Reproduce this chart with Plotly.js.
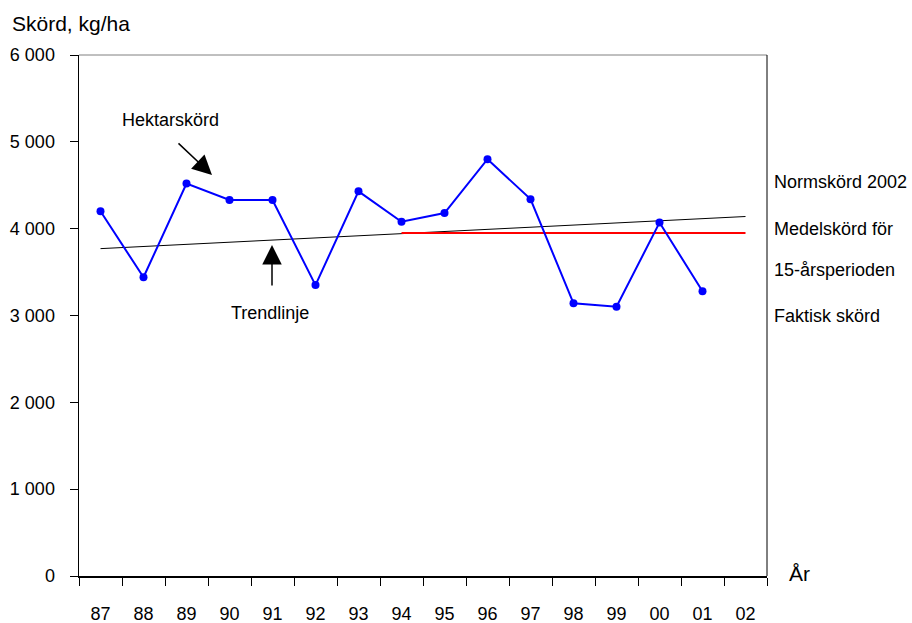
<!DOCTYPE html>
<html><head><meta charset="utf-8">
<script src="https://cdn.plot.ly/plotly-3.0.1.min.js"></script>
<style>html,body{margin:0;padding:0;background:#fff}#chart{width:912px;height:623px}</style>
</head><body><div id="chart"></div>
<script>
const years = ["87","88","89","90","91","92","93","94","95","96","97","98","99","00","01","02"];
const harvestYears = ["87","88","89","90","91","92","93","94","95","96","97","98","99","00","01"];
const harvest = [4200,3440,4520,4330,4330,3350,4430,4080,4180,4800,4340,3140,3100,4070,3280];
const trendYears = ["87","02"];
const trendValues = [3770,4140];
const meanYears = ["94","02"];
const meanValues = [3950,3950];
const yTickVals = [0,1000,2000,3000,4000,5000,6000];
const yTickText = ["0","1 000","2 000","3 000","4 000","5 000","6 000"];

const L=79, R=767, T=55, B=576, W=R-L, H=B-T;
const px=(x)=>(x-L)/W, py=(y)=>(B-y)/H;
const font={family:"Liberation Sans, Arial, sans-serif",size:18,color:"#000"};

const traces=[
 {x:trendYears,y:trendValues,type:"scatter",mode:"lines",line:{color:"#000",width:1},hoverinfo:"skip"},
 {x:meanYears,y:meanValues,type:"scatter",mode:"lines",line:{color:"#ff0000",width:2},hoverinfo:"skip"},
 {x:harvestYears,y:harvest,type:"scatter",mode:"lines+markers",line:{color:"#0000ff",width:2},marker:{color:"#0000ff",size:8}}
];
const layout={
 width:912,height:623,showlegend:false,
 paper_bgcolor:"#fff",plot_bgcolor:"#fff",
 margin:{l:L,r:912-R,t:T,b:623-B,pad:0},
 font:font,
 xaxis:{type:"category",categoryorder:"array",categoryarray:years,range:[-0.5,15.5],
  tickson:"boundaries",ticks:"outside",ticklen:8,tickwidth:1,tickcolor:"#000",
  showline:true,linecolor:"#000",linewidth:2,showgrid:false,zeroline:false,
  tickfont:font,ticklabelstandoff:20},
 yaxis:{range:[0,6000],tickvals:yTickVals,ticktext:yTickText,ticks:"outside",ticklen:8,tickwidth:1,tickcolor:"#000",
  showline:true,linecolor:"#000",linewidth:1.5,showgrid:false,zeroline:false,
  tickfont:font,ticklabelstandoff:11},
 shapes:[
  {type:"line",xref:"paper",yref:"paper",x0:0,x1:1,y0:1,y1:1,line:{color:"#808080",width:1}},
  {type:"line",xref:"paper",yref:"paper",x0:1,x1:1,y0:0,y1:1,line:{color:"#000",width:1}}
 ],
 annotations:[
  {text:"Skörd, kg/ha",xref:"paper",yref:"paper",x:px(10),y:py(24),xanchor:"left",yanchor:"middle",showarrow:false,font:{family:font.family,size:21,color:"#000"}},
  {text:"År",xref:"paper",yref:"paper",x:px(787),y:py(573),xanchor:"left",yanchor:"middle",showarrow:false,font:{family:font.family,size:21,color:"#000"}},
  {text:"Hektarskörd",xref:"paper",yref:"paper",x:px(170.5),y:py(120),xanchor:"center",yanchor:"middle",showarrow:false,font:font},
  {text:"",xref:"paper",yref:"paper",x:px(212),y:py(175),ax:-35,ay:-33,showarrow:true,arrowhead:2,arrowsize:2.6,arrowwidth:1.5,arrowcolor:"#000"},
  {text:"Trendlinje",xref:"paper",yref:"paper",x:px(270),y:py(313),xanchor:"center",yanchor:"middle",showarrow:false,font:font},
  {text:"",xref:"paper",yref:"paper",x:px(272),y:py(245),ax:0,ay:42,showarrow:true,arrowhead:2,arrowsize:2.6,arrowwidth:1.5,arrowcolor:"#000"},
  {text:"Normskörd 2002",xref:"paper",yref:"paper",x:px(772),y:py(182),xanchor:"left",yanchor:"middle",showarrow:false,font:font},
  {text:"Medelskörd för",xref:"paper",yref:"paper",x:px(772),y:py(229),xanchor:"left",yanchor:"middle",showarrow:false,font:font},
  {text:"15-årsperioden",xref:"paper",yref:"paper",x:px(772),y:py(270),xanchor:"left",yanchor:"middle",showarrow:false,font:font},
  {text:"Faktisk skörd",xref:"paper",yref:"paper",x:px(772),y:py(316),xanchor:"left",yanchor:"middle",showarrow:false,font:font}
 ]
};
Plotly.newPlot("chart",traces,layout,{staticPlot:true,displayModeBar:false});
</script></body></html>
